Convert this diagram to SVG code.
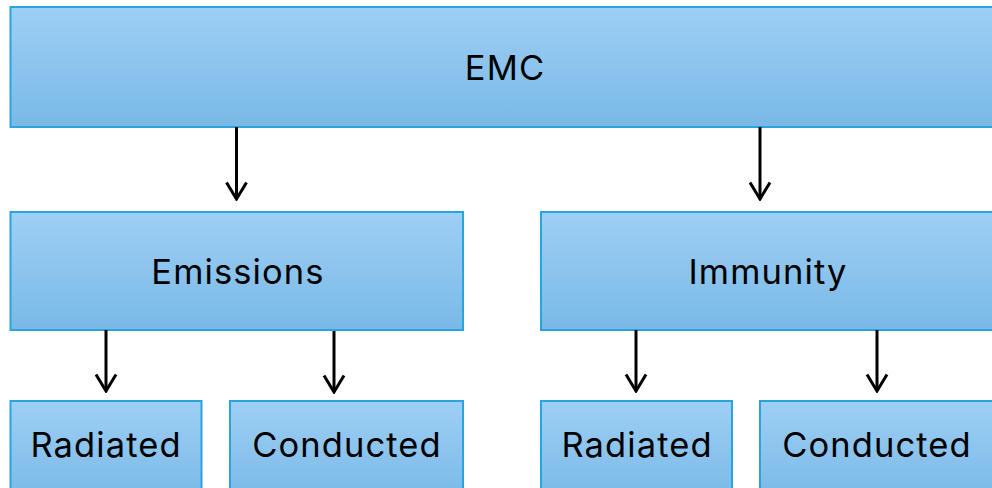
<svg xmlns="http://www.w3.org/2000/svg" width="992" height="488" viewBox="0 0 992 488">
  <defs>
    <linearGradient id="fillGrad" x1="0" y1="0" x2="0" y2="1">
      <stop offset="0" stop-color="#9ecff4"/>
      <stop offset="1" stop-color="#79b9e7"/>
    </linearGradient>
    <marker id="arrow" markerUnits="userSpaceOnUse" markerWidth="20" markerHeight="24" refX="18" refY="12" orient="auto" viewBox="0 0 20 24">
      <path d="M1.5,2 L18,12 L1.5,22" fill="none" stroke="#000" stroke-width="3" stroke-linejoin="miter"/>
    </marker>
    <style>
      .box { fill: url(#fillGrad); stroke: #2aa4dd; stroke-width: 2; }
      .lbl { font-family: Inter, "Open Sans", "Liberation Sans", sans-serif; font-size: 34.5px; font-weight: 400; letter-spacing: 1.1px; fill: #000; text-anchor: middle; }
      .conn { stroke: #000; stroke-width: 3; fill: none; }
    </style>
  </defs>

  <g id="node-emc">
    <rect class="box" x="10.5" y="7" width="990" height="120"/>
    <text class="lbl" x="505" y="80">EMC</text>
  </g>
  <g id="node-emissions">
    <rect class="box" x="10.5" y="212" width="452.5" height="118"/>
    <text class="lbl" x="238" y="284">Emissions</text>
  </g>
  <g id="node-immunity">
    <rect class="box" x="541" y="212" width="453" height="118"/>
    <text class="lbl" x="768" y="284">Immunity</text>
  </g>
  <g id="node-em-radiated">
    <rect class="box" x="10.5" y="401" width="191" height="100"/>
    <text class="lbl" x="106" y="457">Radiated</text>
  </g>
  <g id="node-em-conducted">
    <rect class="box" x="230" y="401" width="233" height="100"/>
    <text class="lbl" x="347" y="457">Conducted</text>
  </g>
  <g id="node-im-radiated">
    <rect class="box" x="541" y="401" width="191" height="100"/>
    <text class="lbl" x="637" y="457">Radiated</text>
  </g>
  <g id="node-im-conducted">
    <rect class="box" x="760" y="401" width="233" height="100"/>
    <text class="lbl" x="877" y="457">Conducted</text>
  </g>

  <g id="connectors">
    <line class="conn" x1="236.5" y1="127" x2="236.5" y2="199" marker-end="url(#arrow)"/>
    <line class="conn" x1="760" y1="127" x2="760" y2="199" marker-end="url(#arrow)"/>
    <line class="conn" x1="106" y1="330" x2="106" y2="391" marker-end="url(#arrow)"/>
    <line class="conn" x1="334" y1="331" x2="334" y2="392" marker-end="url(#arrow)"/>
    <line class="conn" x1="636" y1="330" x2="636" y2="391" marker-end="url(#arrow)"/>
    <line class="conn" x1="877" y1="330" x2="877" y2="391" marker-end="url(#arrow)"/>
  </g>
</svg>
